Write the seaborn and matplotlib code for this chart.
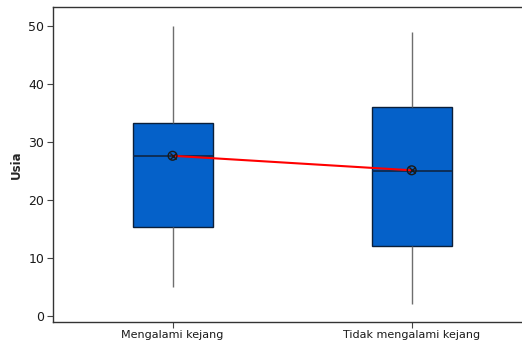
import matplotlib
matplotlib.use("Agg")
import matplotlib.pyplot as plt
import seaborn as sns
import pandas as pd

# Five-number summaries per group (lower whisker, Q1, median, Q3, upper whisker)
groups = ["Mengalami kejang", "Tidak mengalami kejang"]
lower_whisker = [5, 2]
q1 = [15.3, 12]
median = [27.5, 25]
q3 = [33.3, 36]
upper_whisker = [50, 49]
means = [27.6, 25.1]
y_ticks = [0, 10, 20, 30, 40, 50]

rows = []
for i, g in enumerate(groups):
    for v in (lower_whisker[i], q1[i], median[i], q3[i], upper_whisker[i]):
        rows.append({"Kelompok": g, "Usia": v})
df = pd.DataFrame(rows)
mean_df = pd.DataFrame({"Kelompok": groups, "Usia": means})

sns.set_style("white")
plt.rcParams["font.family"] = ["DejaVu Sans"]

fig = plt.figure(figsize=(5.22, 3.44), dpi=100)
ax = fig.add_axes([0.1006, 0.064, 0.902, 0.916])

sns.boxplot(
    data=df, x="Kelompok", y="Usia", order=groups, ax=ax,
    color="#0561C9", saturation=1, width=0.335, whis=10,
    linecolor="#0B1F3A", linewidth=1.0,
    boxprops=dict(edgecolor="#0B1F3A", linewidth=1.0),
    medianprops=dict(color="#0E2A4F", linewidth=1.3),
    whiskerprops=dict(color="#6E6E6E", linewidth=1.0),
    capprops=dict(linewidth=0),
    showfliers=False,
)

# Mean connect line and mean symbols
sns.lineplot(data=mean_df, x="Kelompok", y="Usia", ax=ax, color="#FF0000",
             linewidth=1.5, sort=False, zorder=5)
sns.scatterplot(data=mean_df, x="Kelompok", y="Usia", ax=ax, marker="o",
                s=40, facecolor="none", edgecolor="#1A1A1A", linewidth=1.0, zorder=6)
sns.scatterplot(data=mean_df, x="Kelompok", y="Usia", ax=ax, marker="x",
                s=20, color="#1A1A1A", linewidth=1.0, zorder=7)

ax.set_xlim(-0.502, 1.467)
ax.set_ylim(-1.03, 53.25)
ax.set_yticks(y_ticks)
ax.set_xlabel("")
ax.set_ylabel("Usia", fontsize=8.5, fontweight="bold", labelpad=4)

for side in ["left", "bottom", "top"]:
    ax.spines[side].set_color("#333333")
    ax.spines[side].set_linewidth(1.0)
ax.spines["right"].set_visible(False)

ax.tick_params(axis="both", which="both", direction="out", length=4,
               width=0.8, color="#444444", labelcolor="#1A1A1A",
               left=True, bottom=True, pad=2)
ax.tick_params(axis="x", labelsize=8)
ax.tick_params(axis="y", labelsize=9)

fig.savefig("out.png", dpi=100)
